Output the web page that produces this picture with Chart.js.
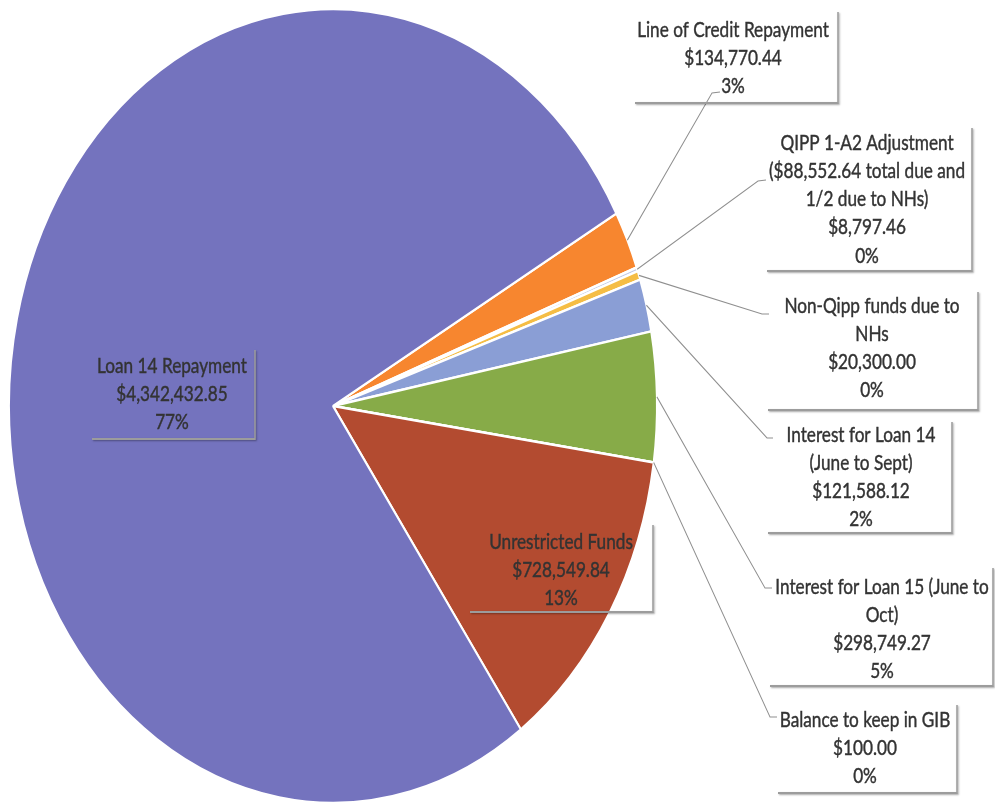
<!DOCTYPE html>
<html>
<head>
<meta charset="utf-8">
<script src="https://cdn.jsdelivr.net/npm/chart.js@4.4.0/dist/chart.umd.min.js"></script>
<style>
  html, body { margin: 0; padding: 0; background: #fff; }
  canvas { display: block; }
</style>
</head>
<body>
<canvas id="graficoPizza" width="995" height="805"></canvas>
<script>
const categorias = [
    'Line of Credit Repayment',
    'QIPP 1-A2 Adjustment ($88,552.64 total due and 1/2 due to NHs)',
    'Non-Qipp funds due to NHs',
    'Interest for Loan 14 (June to Sept)',
    'Interest for Loan 15 (June to Oct)',
    'Balance to keep in GIB',
    'Unrestricted Funds',
    'Loan 14 Repayment'
];
const valores = [134770.44, 8797.46, 20300.00, 121588.12, 298749.27, 100.00, 728549.84, 4342432.85];
const percentuais = ['3%', '0%', '0%', '2%', '5%', '0%', '13%', '77%'];
const linhasNome = [
    ['Line of Credit Repayment'],
    ['QIPP 1-A2 Adjustment', '($88,552.64 total due and', '1/2 due to NHs)'],
    ['Non-Qipp funds due to', 'NHs'],
    ['Interest for Loan 14', '(June to Sept)'],
    ['Interest for Loan 15 (June to', 'Oct)'],
    ['Balance to keep in GIB'],
    ['Unrestricted Funds'],
    ['Loan 14 Repayment']
];
const cores = ['#f7862f', '#c3cbe6', '#f5bd45', '#8a9ed5', '#87ab48', '#a9b37a', '#b34b30', '#7473be'];

// the scanned chart is stretched vertically
const ESTICA = 1.225;

// label boxes in page pixels: [left, top, right, bottom], text centre, first line, leader elbow and end
const caixas = [
    { box: [635, 12, 838, 103], cx: 733, y0: 30, cotovelo: [712, 93], fim: [720, 92] },
    { box: [767, 128, 972, 271], cx: 867, y0: 143, cotovelo: [758, 181], fim: [766, 180] },
    { box: [768, 292, 978, 410], cx: 872, y0: 306, cotovelo: [762, 314], fim: [769, 314] },
    { box: [768, 422, 952, 533], cx: 861, y0: 435, cotovelo: [767, 438], fim: [773, 438] },
    { box: [770, 568, 993, 686], cx: 882, y0: 587, cotovelo: [765, 588], fim: [772, 588] },
    { box: [778, 705, 957, 793], cx: 865, y0: 720, cotovelo: [770, 717], fim: [777, 717] },
    { box: [470, 525, 653, 612], cx: 561, y0: 542, cotovelo: null, fim: null },
    { box: [92, 350, 255, 439], cx: 172, y0: 366, cotovelo: null, fim: null }
];
const passoLinha = 28.2;

function formataDolar(v) {
    return '$' + v.toLocaleString('en-US', { minimumFractionDigits: 2, maximumFractionDigits: 2 });
}

const rotulosPizza = {
    id: 'rotulosPizza',
    beforeDraw(chart) {
        const ctx = chart.ctx;
        ctx.save();
        ctx.scale(1, ESTICA);
    },
    afterDraw(chart) {
        const ctx = chart.ctx;
        const arcos = chart.getDatasetMeta(0).data;
        const y = v => v / ESTICA;

        arcos.forEach((arco, i) => {
            const c = caixas[i];
            const p = arco.getProps(['x', 'y', 'startAngle', 'endAngle', 'outerRadius']);
            const meio = (p.startAngle + p.endAngle) / 2;

            // leader line
            if (c.cotovelo) {
                ctx.save();
                ctx.strokeStyle = '#8f8f8f';
                ctx.lineWidth = 1;
                ctx.beginPath();
                ctx.moveTo(p.x + Math.cos(meio) * p.outerRadius, p.y + Math.sin(meio) * p.outerRadius);
                ctx.lineTo(c.cotovelo[0], y(c.cotovelo[1]));
                ctx.lineTo(c.fim[0], y(c.fim[1]));
                ctx.stroke();
                ctx.restore();
            }

            // box edge with shadow (right and bottom only)
            const [l, t, r, b] = c.box;
            ctx.save();
            ctx.strokeStyle = '#9c9c9c';
            ctx.lineWidth = 1.5;
            ctx.shadowColor = 'rgba(0,0,0,0.35)';
            ctx.shadowBlur = 2;
            ctx.shadowOffsetX = 1;
            ctx.shadowOffsetY = 1;
            ctx.beginPath();
            ctx.moveTo(r, y(t));
            ctx.lineTo(r, y(b));
            ctx.lineTo(l, y(b));
            ctx.stroke();
            ctx.restore();

            // text
            const linhas = linhasNome[i].concat([formataDolar(valores[i]), percentuais[i]]);
            ctx.save();
            ctx.font = '17.2px Lato';
            ctx.fillStyle = '#333333';
            ctx.strokeStyle = '#333333';
            ctx.lineWidth = 0.35;
            ctx.textAlign = 'center';
            ctx.textBaseline = 'middle';
            linhas.forEach((txt, j) => {
                ctx.fillText(txt, c.cx, y(c.y0 + j * passoLinha));
                ctx.strokeText(txt, c.cx, y(c.y0 + j * passoLinha));
            });
            ctx.restore();
        });

        ctx.restore();
    }
};

const graficoPizza = document.getElementById('graficoPizza');

const grafico = new Chart(graficoPizza, {
    type: 'pie',
    data: {
        labels: categorias,
        datasets: [{
            data: valores,
            backgroundColor: cores,
            borderColor: '#ffffff',
            borderWidth: 2
        }]
    },
    options: {
        responsive: false,
        animation: false,
        devicePixelRatio: 1,
        rotation: 61,
        layout: {
            padding: { left: 8, right: 337, top: 6.4, bottom: 148.6 }
        },
        plugins: {
            legend: { display: false },
            tooltip: { enabled: false }
        }
    },
    plugins: [rotulosPizza]
});
</script>
</body>
</html>
